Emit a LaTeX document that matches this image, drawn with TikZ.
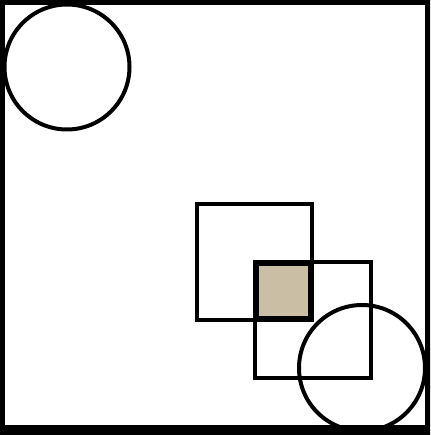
\documentclass[tikz,border=0pt]{standalone}
\definecolor{tan}{RGB}{202,190,164}
\tikzset{shape line/.style={draw=black,line width=4pt}}
\begin{document}
\begin{tikzpicture}[x=1pt,y=-1pt]
\useasboundingbox (0,0) rectangle (430,435);
\clip (0,0) rectangle (430,435);
\fill[white] (0,0) rectangle (430,435);
\draw[line width=10pt] (0,0) rectangle (430,430);
\draw[shape line] (67,67) circle (62.5);
\draw[shape line] (197,204) rectangle (312,320);
\draw[shape line] (255,262) rectangle (371,378);
\draw[fill=tan,draw=black,line width=5.5pt] (256,263) rectangle (311,319);
\draw[shape line] (362,368) circle (63);
\end{tikzpicture}
\end{document}
